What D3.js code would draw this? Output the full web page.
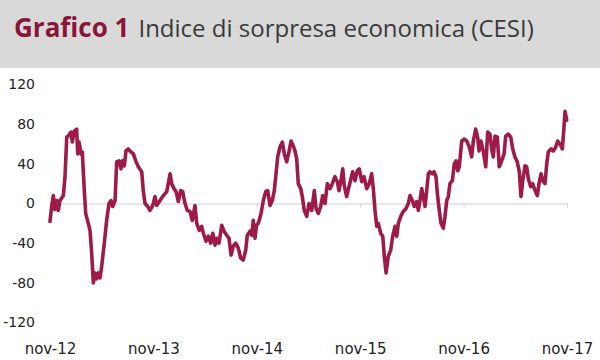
<!DOCTYPE html>
<html><head><meta charset="utf-8">
<script src="https://cdn.jsdelivr.net/npm/d3@7"></script>
<style>body{margin:0;background:#fff}svg{display:block}</style>
</head><body>
<svg id="c" width="600" height="360"></svg>
<script>
// time in decimal years, CESI values
const times = [2012.833,2012.849,2012.865,2012.881,2012.898,2012.913,2012.930,2012.962,2012.978,2012.995,
2013.010,2013.036,2013.049,2013.068,2013.091,2013.101,2013.114,2013.133,2013.145,2013.165,2013.178,2013.198,
2013.220,2013.236,2013.252,2013.268,2013.285,2013.300,2013.317,2013.333,2013.358,2013.381,2013.404,2013.423,
2013.439,2013.462,2013.478,2013.500,2013.520,2013.532,2013.552,2013.568,2013.590,2013.616,2013.639,2013.662,
2013.687,2013.720,2013.735,2013.752,2013.778,2013.800,2013.822,2013.832,2013.848,2013.865,2013.897,2013.929,
2013.962,2013.977,2013.994,2014.010,2014.032,2014.052,2014.074,2014.097,2014.116,2014.139,2014.161,2014.187,
2014.209,2014.235,2014.252,2014.277,2014.300,2014.316,2014.342,2014.364,2014.387,2014.407,2014.429,2014.445,
2014.467,2014.494,2014.516,2014.542,2014.564,2014.584,2014.606,2014.629,2014.654,2014.677,2014.702,2014.726,
2014.741,2014.767,2014.784,2014.799,2014.816,2014.830,2014.848,2014.874,2014.896,2014.919,2014.938,2014.961,
2014.983,2015.002,2015.016,2015.035,2015.057,2015.080,2015.099,2015.122,2015.144,2015.164,2015.186,2015.202,
2015.219,2015.234,2015.258,2015.273,2015.292,2015.316,2015.338,2015.364,2015.389,2015.406,2015.428,2015.451,
2015.470,2015.493,2015.515,2015.541,2015.563,2015.589,2015.612,2015.628,2015.647,2015.664,2015.679,2015.702,
2015.725,2015.744,2015.760,2015.783,2015.805,2015.824,2015.848,2015.870,2015.896,2015.921,2015.944,2015.960,
2015.976,2015.993,2016.008,2016.031,2016.051,2016.066,2016.083,2016.105,2016.128,2016.147,2016.170,2016.186,
2016.202,2016.225,2016.250,2016.276,2016.298,2016.315,2016.337,2016.356,2016.379,2016.395,2016.411,2016.428,
2016.443,2016.460,2016.476,2016.492,2016.508,2016.530,2016.547,2016.566,2016.579,2016.598,2016.614,2016.637,
2016.653,2016.670,2016.685,2016.701,2016.724,2016.743,2016.760,2016.776,2016.791,2016.815,2016.837,2016.863,
2016.888,2016.911,2016.927,2016.950,2016.969,2016.982,2017.001,2017.024,2017.047,2017.066,2017.088,2017.105,
2017.120,2017.137,2017.159,2017.178,2017.201,2017.224,2017.240,2017.265,2017.289,2017.308,2017.330,2017.352,
2017.372,2017.388,2017.405,2017.427,2017.443,2017.459,2017.482,2017.501,2017.524,2017.546,2017.562,2017.582,
2017.598,2017.620,2017.637,2017.652,2017.678,2017.700,2017.724,2017.743,2017.765,2017.788,2017.801,2017.814,
2017.830];
const values = [-18,-3,8,-6,3,-7,3,8,27,67,
68,72,62,73,75,50,62,50,52,13,-10,-18,
-27,-50,-80,-70,-76,-70,-75,-63,-40,-17,0,3,
-3,3,42,43,35,43,38,53,55,52,50,43,
37,32,13,0,-3,-7,-3,0,7,-2,3,8,
12,20,30,20,15,12,2,13,12,0,-7,-8,
-17,-2,-20,-27,-23,-30,-38,-33,-40,-30,-42,-35,
-40,-22,-28,-32,-35,-52,-43,-40,-45,-55,-57,-47,
-32,-28,-32,-17,-35,-22,-20,-10,3,12,13,-2,
3,13,27,47,57,62,50,42,52,63,58,53,
45,20,15,7,-7,-13,0,-7,13,-5,-10,-3,
8,0,20,15,20,27,22,13,23,35,18,7,
17,25,32,23,33,35,22,27,15,20,30,15,
-7,-23,-20,-30,-33,-53,-70,-53,-47,-33,-23,-33,
-20,-13,-8,-5,0,8,3,-3,2,-7,3,15,
7,-3,13,30,32,30,32,27,10,-7,-20,-25,
-13,3,7,20,23,40,43,33,37,63,65,63,
57,47,63,75,67,53,63,52,37,72,70,55,
47,68,67,37,43,50,68,70,67,55,47,42,
32,7,23,38,37,25,17,20,13,8,20,30,
23,20,40,52,55,53,57,63,60,55,73,93,
84];
const yTicks = [120,80,40,0,-40,-80,-120];
const xTicks = [2012.833,2013.833,2014.833,2015.833,2016.833,2017.833];
const xTickLabels = ["nov-12","nov-13","nov-14","nov-15","nov-16","nov-17"];
const titleBold = "Grafico 1";
const titleText = "Indice di sorpresa economica (CESI)";

const svg = d3.select("#c");
svg.append("rect").attr("x",0).attr("y",0).attr("width",600).attr("height",68).attr("fill","#d9d9d9");
const t = svg.append("text").attr("x",14).attr("y",37).attr("font-family","'Open Sans', sans-serif");
t.append("tspan").attr("font-weight","bold").attr("font-size",26).attr("fill","#8b1538").text(titleBold);
t.append("tspan").attr("dx",9).attr("font-size",24).attr("fill","#3a3a3a").text(titleText);

const x = d3.scaleLinear().domain([2012.833,2017.833]).range([50,567]);
const y = d3.scaleLinear().domain([-120,120]).range([322.5,84.5]);

// y labels
svg.append("g").attr("transform","translate(35,0)")
  .call(d3.axisLeft(y).tickValues(yTicks).tickSize(0).tickPadding(0).tickFormat(d=>String(d)))
  .call(g=>g.select(".domain").remove())
  .call(g=>g.selectAll("text").attr("font-family","'DejaVu Sans', Verdana, sans-serif").attr("font-size",14).attr("fill","#222"));

// zero line with small ticks
svg.append("g").attr("transform",`translate(0,${y(0)})`)
  .call(d3.axisBottom(x).tickValues(xTicks).tickSize(4).tickSizeOuter(0).tickFormat(""))
  .call(g=>g.select(".domain").attr("stroke","#d0d0d0"))
  .call(g=>g.selectAll(".tick line").attr("stroke","#d0d0d0"));

// bottom labels
svg.append("g").attr("transform","translate(0,343)")
  .call(d3.axisBottom(x).tickValues(xTicks).tickSize(0).tickPadding(0).tickFormat((d,i)=>xTickLabels[i]))
  .call(g=>g.select(".domain").remove())
  .call(g=>g.selectAll("text").attr("font-family","'DejaVu Sans', Verdana, sans-serif").attr("font-size",15).attr("fill","#222"));

const data = times.map((tt,i)=>({t:tt,v:values[i]}));
svg.append("path").datum(data)
  .attr("fill","none").attr("stroke","#9e1a48").attr("stroke-width",3.6)
  .attr("stroke-linejoin","round").attr("stroke-linecap","round")
  .attr("d", d3.line().x(d=>x(d.t)).y(d=>y(d.v)));
</script>
</body></html>
